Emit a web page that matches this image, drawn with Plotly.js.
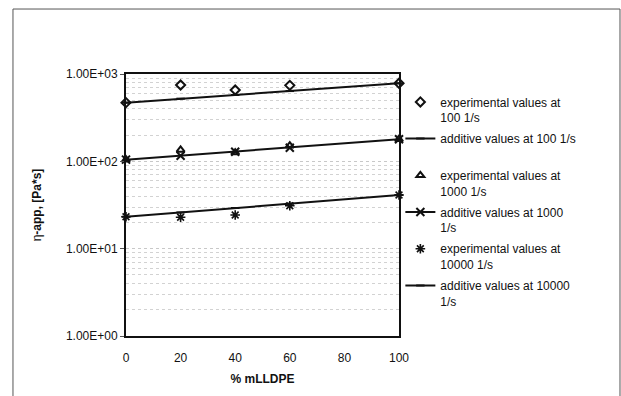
<!DOCTYPE html>
<html><head><meta charset="utf-8">
<script src="https://cdn.plot.ly/plotly-3.0.1.min.js"></script>
<style>html,body{margin:0;padding:0;background:#fff;overflow:hidden}#c{width:621px;height:396px}</style>
</head><body><div id="c"></div>
<script>
const xVals = [0, 20, 40, 60, 100];
const exp100 = [470, 748, 656, 741, 782];
const add100 = [470, 522, 575, 638, 782];
const exp1000 = [104.5, 135, 126, 151, 179];
const add1000 = [104.5, 116, 129, 143, 179];
const exp10000 = [23.2, 22.9, 24.3, 31, 41.2];
const add10000 = [23.2, 26, 29.2, 32.7, 41.2];
const yTickVals = [1, 10, 100, 1000];
const yTickText = ["1.00E+00", "1.00E+01", "1.00E+02", "1.00E+03"];
const xTickVals = [0, 20, 40, 60, 80, 100];
const names = [
  "experimental values at<br>100 1/s",
  "additive values at 100 1/s<br> ",
  "experimental values at<br>1000 1/s",
  "additive values at 1000<br>1/s",
  "experimental values at<br>10000 1/s",
  "additive values at 10000<br>1/s"
];

const blk = '#111';
const traces = [
  {x: xVals, y: exp100, name: names[0], mode: 'markers', legendgroup: 'a',
   marker: {symbol: 'diamond-open', size: 7, color: blk, line: {width: 2, color: blk}}},
  {x: xVals, y: add100, name: names[1], mode: 'lines+markers', legendgroup: 'b',
   line: {color: blk, width: 2}, marker: {symbol: 'line-ew', size: 6, color: blk, line: {width: 2, color: blk}}},
  {x: xVals, y: exp1000, name: names[2], mode: 'markers', legendgroup: 'c',
   marker: {symbol: 'triangle-up-open', size: 7, color: blk, line: {width: 2, color: blk}}},
  {x: xVals, y: add1000, name: names[3], mode: 'lines+markers', legendgroup: 'd',
   line: {color: blk, width: 2}, marker: {symbol: 'x-thin-open', size: 8, color: blk, line: {width: 2, color: blk}}},
  {x: xVals, y: exp10000, name: names[4], mode: 'markers', legendgroup: 'e',
   marker: {symbol: 'asterisk-open', size: 8, color: blk, line: {width: 1.6, color: blk}}},
  {x: xVals, y: add10000, name: names[5], mode: 'lines+markers', legendgroup: 'f',
   line: {color: blk, width: 2}, marker: {symbol: 'line-ew', size: 6, color: blk, line: {width: 2, color: blk}}}
].map(t => Object.assign(t, {type: 'scatter', cliponaxis: false}));

const frame = {xref: 'paper', yref: 'paper', type: 'line', line: {color: '#555', width: 1}, layer: 'below'};
const layout = {
  width: 621, height: 396,
  margin: {l: 126, r: 222, t: 74, b: 60},
  paper_bgcolor: '#fff', plot_bgcolor: '#fff',
  font: {family: 'Arial, Liberation Sans, sans-serif', size: 12, color: blk},
  showlegend: true,
  legend: {x: 1.005, xanchor: 'left', y: 0.948, yanchor: 'top', valign: 'top',
           tracegroupgap: 2.5, font: {size: 12, color: blk}, bgcolor: 'rgba(0,0,0,0)'},
  xaxis: {range: [0, 100], tickvals: xTickVals, ticks: '', ticklabelstandoff: 10,
          showline: true, linecolor: blk, linewidth: 2, mirror: true, showgrid: false, zeroline: false,
          tickfont: {size: 12},
          title: {text: '<b>% mLLDPE</b>', font: {size: 12}, standoff: 10}},
  yaxis: {type: 'log', range: [0, 3], tickvals: yTickVals, ticktext: yTickText,
          ticks: 'outside', ticklen: 4, tickcolor: '#555',
          showline: true, linecolor: blk, linewidth: 2, mirror: true,
          showgrid: true, gridcolor: '#c8c8c8', griddash: 'dot', gridwidth: 1,
          minor: {dtick: 'D1', showgrid: true, gridcolor: '#d2d2d2', griddash: 'dot', ticks: ''},
          zeroline: false, tickfont: {size: 12},
          title: {text: 'η<b>-app, [Pa*s]</b>', font: {size: 12}, standoff: 22}},
  shapes: [
    Object.assign({x0: -0.414, x1: -0.414, y0: -0.6, y1: 1.248}, frame),
    Object.assign({x0: -0.414, x1: 1.8095, y0: 1.248, y1: 1.248}, frame),
    Object.assign({x0: 1.8095, x1: 1.8095, y0: -0.6, y1: 1.248}, frame)
  ]
};
Plotly.newPlot('c', traces, layout, {staticPlot: true});
</script></body></html>
